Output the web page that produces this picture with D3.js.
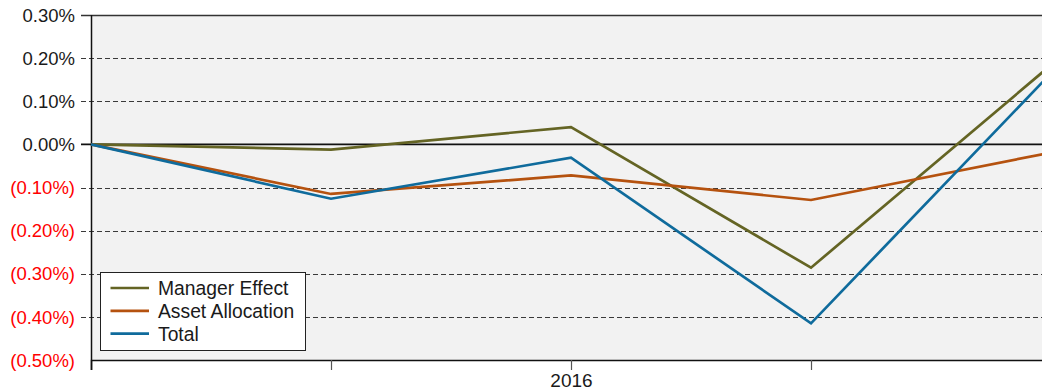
<!DOCTYPE html>
<html>
<head>
<meta charset="utf-8">
<script src="https://cdn.jsdelivr.net/npm/d3@7"></script>
<style>
  html, body { margin: 0; padding: 0; background: #ffffff; overflow: hidden; }
  svg { display: block; font-family: "Liberation Sans", Arial, sans-serif; }
</style>
</head>
<body>
<svg id="chart" width="1042" height="392"></svg>
<script>
// Attribution by period, in percent
const periods = ["Q3 2015", "Q4 2015", "Q1 2016", "Q2 2016", "Q3 2016"];
const periodTickLabels = ["", "", "2016", "", ""];
const managerEffect = [0.000, -0.012, 0.040, -0.286, 0.184];
const assetAllocation = [0.000, -0.115, -0.072, -0.129, -0.019];
const total = [0.000, -0.126, -0.031, -0.415, 0.165];
const yTicks = [0.3, 0.2, 0.1, 0.0, -0.1, -0.2, -0.3, -0.4, -0.5];

const seriesList = [
  { name: "Manager Effect", values: managerEffect, color: "#646424" },
  { name: "Asset Allocation", values: assetAllocation, color: "#b5520f" },
  { name: "Total", values: total, color: "#0f6b9c" }
];

const svg = d3.select("#chart");
const margin = { left: 91, top: 15, right: 1051, bottom: 360 };

const x = d3.scalePoint().domain(periods).range([margin.left, margin.right]);
const y = d3.scaleLinear().domain([-0.5, 0.3]).range([margin.bottom, margin.top]);

// Plot background
svg.append("rect")
  .attr("x", margin.left).attr("y", margin.top)
  .attr("width", margin.right - margin.left)
  .attr("height", margin.bottom - margin.top)
  .attr("fill", "#f2f2f2");

// Dashed gridlines, continuing left of the axis as ticks
const gridVals = yTicks.filter(v => Math.abs(v) > 1e-9 && v < 0.29 && v > -0.49);
svg.append("g").selectAll("line").data(gridVals).join("line")
  .attr("x1", 81).attr("x2", margin.right)
  .attr("y1", d => Math.round(y(d)) + 0.5).attr("y2", d => Math.round(y(d)) + 0.5)
  .attr("stroke", "#3a3a3a").attr("stroke-width", 1)
  .attr("stroke-dasharray", "5,3");

// Top border
svg.append("line")
  .attr("x1", 81).attr("x2", margin.right)
  .attr("y1", Math.round(y(0.3)) + 0.5).attr("y2", Math.round(y(0.3)) + 0.5)
  .attr("stroke", "#333").attr("stroke-width", 1.5);

// Zero line
svg.append("line")
  .attr("x1", 81).attr("x2", margin.right)
  .attr("y1", y(0)).attr("y2", y(0))
  .attr("stroke", "#111").attr("stroke-width", 1.8);

// Y axis labels
const fmt = v => {
  const s = Math.abs(v).toFixed(2) + "%";
  return v < -1e-9 ? "(" + s + ")" : s;
};
svg.append("g").selectAll("text").data(yTicks).join("text")
  .attr("x", 75).attr("y", d => y(d))
  .attr("dy", "0.36em")
  .attr("text-anchor", "end")
  .attr("font-size", "18.5px")
  .attr("fill", d => d < -1e-9 ? "#ff0000" : "#1a1a1a")
  .text(fmt);

// X axis
const xAxis = d3.axisBottom(x)
  .tickSize(10)
  .tickFormat((d, i) => periodTickLabels[i]);
const gx = svg.append("g")
  .attr("transform", `translate(0,${margin.bottom})`)
  .call(xAxis);
gx.select(".domain").attr("stroke", "#111").attr("stroke-width", 1.5);
gx.selectAll(".tick line").attr("stroke", "#555").attr("stroke-width", 1.2);
gx.selectAll(".tick text")
  .attr("font-size", "19px").attr("fill", "#1a1a1a")
  .attr("font-family", "Liberation Sans, Arial, sans-serif")
  .attr("dy", "0.9em").attr("y", 10);
gx.selectAll(".tick").filter((d, i) => i === 0).select("line").attr("y2", 0);

// Left axis line
svg.append("line")
  .attr("x1", margin.left + 0.5).attr("x2", margin.left + 0.5)
  .attr("y1", margin.top).attr("y2", margin.bottom + 10)
  .attr("stroke", "#111").attr("stroke-width", 1.5);

// Series lines
const line = d3.line()
  .x((d, i) => x(periods[i]))
  .y(d => y(d));
svg.append("g").selectAll("path").data(seriesList).join("path")
  .attr("d", s => line(s.values))
  .attr("fill", "none")
  .attr("stroke", s => s.color)
  .attr("stroke-width", 2.7)
  .attr("stroke-linejoin", "miter");

// Legend
const legend = svg.append("g").attr("transform", "translate(100.5,272.5)");
legend.append("rect")
  .attr("width", 205).attr("height", 78)
  .attr("fill", "#ffffff").attr("stroke", "#222").attr("stroke-width", 1);
const items = legend.selectAll("g.item").data(seriesList).join("g")
  .attr("class", "item")
  .attr("transform", (d, i) => `translate(0,${15.5 + i * 22.8})`);
items.append("line")
  .attr("x1", 10).attr("x2", 48.5)
  .attr("stroke", d => d.color).attr("stroke-width", 2.7);
items.append("text")
  .attr("x", 57.5).attr("dy", "0.36em")
  .attr("font-size", "19.3px").attr("fill", "#1a1a1a")
  .text(d => d.name);
</script>
</body>
</html>
